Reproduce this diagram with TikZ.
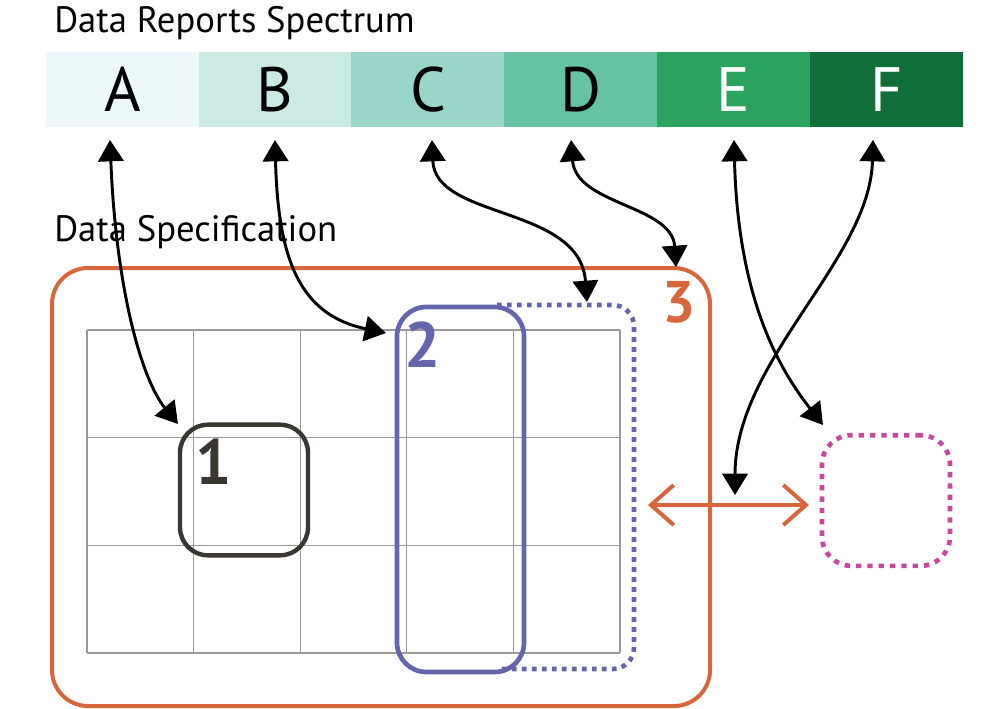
\documentclass[tikz,border=0pt]{standalone}
\usepackage{fontspec}
\setmainfont{PT Sans}
\usetikzlibrary{arrows.meta}
\definecolor{cA}{HTML}{EDF8FB}
\definecolor{cB}{HTML}{CCEAE4}
\definecolor{cC}{HTML}{99D5C9}
\definecolor{cD}{HTML}{66C2A4}
\definecolor{cE}{HTML}{2CA25F}
\definecolor{cF}{HTML}{106E38}
\definecolor{orng}{HTML}{D8663C}
\definecolor{blu}{HTML}{6465AD}
\definecolor{pnk}{HTML}{C8489B}
\definecolor{drk}{HTML}{3A3730}
\definecolor{gridgray}{HTML}{999999}
\begin{document}
\begin{tikzpicture}[x=0.75pt,y=-0.75pt,
  seg/.style={rectangle, inner sep=0pt, minimum width=115pt, minimum height=56.25pt,
    font=\fontsize{47}{47}\selectfont},
  heading/.style={anchor=base west, inner sep=0pt, font=\fontsize{27.5}{27.5}\selectfont},
  numlabel/.style={inner sep=0pt, font=\bfseries\fontsize{48}{48}\selectfont},
  biarrow/.style={line width=2.2pt, {Triangle[length=16pt,width=19pt]}-{Triangle[length=16pt,width=19pt]}},
  gridline/.style={gridgray, line width=1pt},
]
\useasboundingbox (0,0) rectangle (1000,708);

% title and spectrum
\node[heading] (title) at (54,32) {Data Reports Spectrum};
\node[seg, fill=cA] (A) at (122.4,89.5) {A};
\node[seg, fill=cB] (B) at (275.2,89.5) {B};
\node[seg, fill=cC] (C) at (428.0,89.5) {C};
\node[seg, fill=cD] (D) at (580.8,89.5) {D};
\node[seg, fill=cE, text=white] (E) at (733.6,89.5) {E};
\node[seg, fill=cF, text=white] (F) at (886.4,89.5) {F};

\node[heading] (spec) at (54,241) {Data Specification};

% grid
\foreach \gx in {87,193.6,300.2,406.8,513.4,620}
  \draw[gridline] (\gx,330) -- (\gx,653);
\foreach \gy in {330,437.7,545.3,653}
  \draw[gridline] (87,\gy) -- (620,\gy);

% containers
\node[draw=orng, line width=3pt, rounded corners=27pt, minimum width=493.5pt, minimum height=328.5pt, inner sep=0pt] (R3) at (381,487) {};
\node[numlabel, text=orng, font=\bfseries\fontsize{44}{44}\selectfont] (n3) at (679,302.5) {3};

\node[draw=drk, line width=3.3pt, rounded corners=21pt, minimum width=96pt, minimum height=98pt, inner sep=0pt] (B1) at (244,490) {};
\node[numlabel, text=drk] (n1) at (214,462) {1};

\draw[blu, line width=3.5pt, dash pattern=on 3.5pt off 4pt, rounded corners=16pt] (497,305) -- (634,305) -- (634,669) -- (497,669);

\node[draw=blu, line width=3.5pt, rounded corners=22pt, minimum width=95.25pt, minimum height=273.75pt, inner sep=0pt] (B2) at (460.5,489.5) {};
\node[numlabel, text=blu] (n2) at (423,345) {2};

\node[draw=pnk, line width=3.5pt, rounded corners=22pt, dash pattern=on 4pt off 4.5pt, minimum width=96pt, minimum height=98pt, inner sep=0pt] (P) at (886,500.5) {};

% orange double arrow
\coordinate (oL) at (648,505);
\coordinate (oR) at (809,505);
\draw[orng, line width=3pt, {Straight Barb[length=17pt,width=30pt]}-{Straight Barb[length=17pt,width=30pt]}] (oL) -- (oR);

% black connectors
\coordinate (tA) at (110,140); \coordinate (hA) at (178,424);
\coordinate (tB) at (275,140); \coordinate (hB) at (386,333);
\coordinate (tC) at (432,140); \coordinate (hC) at (587,302);
\coordinate (tD) at (571,140); \coordinate (hD) at (676,267);
\coordinate (tE) at (734,140); \coordinate (hE) at (823,425);
\coordinate (tF) at (873,140); \coordinate (hF) at (735,495);

\draw[biarrow] (tA) .. controls (116,290) and (142,380) .. (hA);
\draw[biarrow] (tB) .. controls (278,260) and (300,315) .. (hB);
\draw[biarrow] (tC) .. controls (435,220) and (580,205) .. (hC);
\draw[biarrow] (tD) .. controls (576,205) and (672,205) .. (hD);
\draw[biarrow] (tE) .. controls (738,300) and (780,370) .. (hE);
\draw[biarrow] (tF) .. controls (870,260) and (735,360) .. (hF);
\end{tikzpicture}
\end{document}
